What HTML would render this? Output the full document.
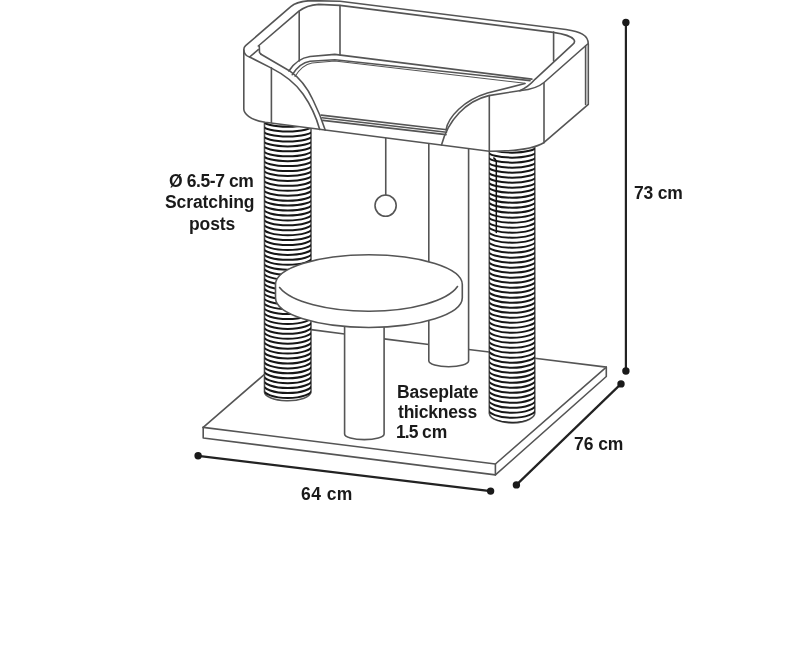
<!DOCTYPE html>
<html><head><meta charset="utf-8"><style>
html,body{margin:0;padding:0;background:#fff;width:800px;height:657px;overflow:hidden}
.wrap{position:relative;width:800px;height:657px}
svg{position:absolute;left:0;top:0}
.t{position:absolute;font-family:"Liberation Sans",sans-serif;font-weight:bold;color:#1a1a1a;font-size:17.5px;line-height:17px;white-space:nowrap;will-change:transform}
</style></head><body><div class="wrap">

<svg width="800" height="657" viewBox="0 0 800 657">
<defs>
  <clipPath id="cpL"><path d="M264.5,122.3 L311,128.5 L311,392.2 A23.25,9.1 0 0 1 264.5,391.2 Z"/></clipPath>
  <clipPath id="cpR"><path d="M489.3,151 C505,153 525,151 534.8,147.6 L534.8,412.2 A22.75,10.1 0 0 1 489.3,413.3 Z"/></clipPath>
</defs>
<g fill="none" stroke="#555" stroke-width="1.6" stroke-linecap="round" stroke-linejoin="round">
  <!-- ===== base plate ===== -->
  <path d="M203.2,427.4 L495.4,464 L606.3,367.1 L534.8,358.2"/>
  <path d="M203.2,427.4 L203.2,438 L495.4,474.9 L606.3,376.5 L606.3,367.1"/>
  <path d="M495.4,464 L495.4,474.9"/>
  <path d="M203.2,427.4 L264.5,374.3"/>
  <path d="M311,329.6 L344.6,334"/>
  <path d="M384.1,338.9 L428.8,344.5"/>
  <path d="M468.6,349.5 L489.3,352"/>

  <!-- ===== back column ===== -->
  <path d="M428.8,143.3 L428.8,262"/>
  <path d="M428.8,319 L428.8,360.7 A19.9,6.1 0 0 0 468.6,360.7 L468.6,148.6" fill="#fff"/>

  <!-- ===== string and ball ===== -->
  <path d="M385.75,137.3 L385.75,195"/>
  <circle cx="385.6" cy="205.6" r="10.6"/>

  <!-- ===== left post ===== -->
  <path d="M264.5,122.3 L264.5,391.2 A23.25,9.1 0 0 0 311,392.2 L311,128.5" fill="#fff"/>
  <g clip-path="url(#cpL)"><path d="M263.00,120.70A24.75,6.00 0 0 0 312.50,120.70M263.00,125.58A24.75,6.01 0 0 0 312.50,125.58M263.00,130.46A24.75,6.06 0 0 0 312.50,130.46M263.00,135.34A24.75,6.11 0 0 0 312.50,135.34M263.00,140.22A24.75,6.17 0 0 0 312.50,140.22M263.00,145.10A24.75,6.22 0 0 0 312.50,145.10M263.00,149.98A24.75,6.27 0 0 0 312.50,149.98M263.00,154.86A24.75,6.33 0 0 0 312.50,154.86M263.00,159.74A24.75,6.38 0 0 0 312.50,159.74M263.00,164.62A24.75,6.43 0 0 0 312.50,164.62M263.00,169.50A24.75,6.49 0 0 0 312.50,169.50M263.00,174.38A24.75,6.54 0 0 0 312.50,174.38M263.00,179.26A24.75,6.59 0 0 0 312.50,179.26M263.00,184.14A24.75,6.65 0 0 0 312.50,184.14M263.00,189.02A24.75,6.70 0 0 0 312.50,189.02M263.00,193.90A24.75,6.75 0 0 0 312.50,193.90M263.00,198.78A24.75,6.80 0 0 0 312.50,198.78M263.00,203.66A24.75,6.86 0 0 0 312.50,203.66M263.00,208.54A24.75,6.91 0 0 0 312.50,208.54M263.00,213.42A24.75,6.96 0 0 0 312.50,213.42M263.00,218.30A24.75,7.02 0 0 0 312.50,218.30M263.00,223.18A24.75,7.07 0 0 0 312.50,223.18M263.00,228.06A24.75,7.12 0 0 0 312.50,228.06M263.00,232.94A24.75,7.18 0 0 0 312.50,232.94M263.00,237.82A24.75,7.23 0 0 0 312.50,237.82M263.00,242.70A24.75,7.28 0 0 0 312.50,242.70M263.00,247.58A24.75,7.34 0 0 0 312.50,247.58M263.00,252.46A24.75,7.39 0 0 0 312.50,252.46M263.00,257.34A24.75,7.44 0 0 0 312.50,257.34M263.00,262.22A24.75,7.50 0 0 0 312.50,262.22M263.00,267.10A24.75,7.55 0 0 0 312.50,267.10M263.00,271.98A24.75,7.60 0 0 0 312.50,271.98M263.00,276.86A24.75,7.66 0 0 0 312.50,276.86M263.00,281.74A24.75,7.71 0 0 0 312.50,281.74M263.00,286.62A24.75,7.76 0 0 0 312.50,286.62M263.00,291.50A24.75,7.82 0 0 0 312.50,291.50M263.00,296.38A24.75,7.87 0 0 0 312.50,296.38M263.00,301.26A24.75,7.92 0 0 0 312.50,301.26M263.00,306.14A24.75,7.98 0 0 0 312.50,306.14M263.00,311.02A24.75,8.03 0 0 0 312.50,311.02M263.00,315.90A24.75,8.08 0 0 0 312.50,315.90M263.00,320.78A24.75,8.14 0 0 0 312.50,320.78M263.00,325.66A24.75,8.19 0 0 0 312.50,325.66M263.00,330.54A24.75,8.24 0 0 0 312.50,330.54M263.00,335.42A24.75,8.30 0 0 0 312.50,335.42M263.00,340.30A24.75,8.35 0 0 0 312.50,340.30M263.00,345.18A24.75,8.40 0 0 0 312.50,345.18M263.00,350.06A24.75,8.46 0 0 0 312.50,350.06M263.00,354.94A24.75,8.51 0 0 0 312.50,354.94M263.00,359.82A24.75,8.56 0 0 0 312.50,359.82M263.00,364.70A24.75,8.61 0 0 0 312.50,364.70M263.00,369.58A24.75,8.67 0 0 0 312.50,369.58M263.00,374.46A24.75,8.72 0 0 0 312.50,374.46M263.00,379.34A24.75,8.77 0 0 0 312.50,379.34M263.00,384.22A24.75,8.83 0 0 0 312.50,384.22M263.00,389.10A24.75,8.88 0 0 0 312.50,389.10M263.00,393.98A24.75,8.93 0 0 0 312.50,393.98M263.00,398.86A24.75,8.99 0 0 0 312.50,398.86" stroke="#161616" stroke-width="2.0"/></g>

  <!-- ===== right post ===== -->
  <path d="M489.3,151 L489.3,413.3 A22.75,10.1 0 0 0 534.8,412.2 L534.8,147.6" fill="#fff"/>
  <g clip-path="url(#cpR)"><path d="M487.80,146.40A24.25,6.23 0 0 0 536.30,146.40M487.80,151.35A24.25,6.29 0 0 0 536.30,151.35M487.80,156.30A24.25,6.34 0 0 0 536.30,156.30M487.80,161.25A24.25,6.40 0 0 0 536.30,161.25M487.80,166.20A24.25,6.45 0 0 0 536.30,166.20M487.80,171.15A24.25,6.50 0 0 0 536.30,171.15M487.80,176.10A24.25,6.56 0 0 0 536.30,176.10M487.80,181.05A24.25,6.61 0 0 0 536.30,181.05M487.80,186.00A24.25,6.67 0 0 0 536.30,186.00M487.80,190.95A24.25,6.72 0 0 0 536.30,190.95M487.80,195.90A24.25,6.77 0 0 0 536.30,195.90M487.80,200.85A24.25,6.83 0 0 0 536.30,200.85M487.80,205.80A24.25,6.88 0 0 0 536.30,205.80M487.80,210.75A24.25,6.94 0 0 0 536.30,210.75M487.80,215.70A24.25,6.99 0 0 0 536.30,215.70M487.80,220.65A24.25,7.04 0 0 0 536.30,220.65M487.80,225.60A24.25,7.10 0 0 0 536.30,225.60M487.80,230.55A24.25,7.15 0 0 0 536.30,230.55M487.80,235.50A24.25,7.21 0 0 0 536.30,235.50M487.80,240.45A24.25,7.26 0 0 0 536.30,240.45M487.80,245.40A24.25,7.31 0 0 0 536.30,245.40M487.80,250.35A24.25,7.37 0 0 0 536.30,250.35M487.80,255.30A24.25,7.42 0 0 0 536.30,255.30M487.80,260.25A24.25,7.48 0 0 0 536.30,260.25M487.80,265.20A24.25,7.53 0 0 0 536.30,265.20M487.80,270.15A24.25,7.58 0 0 0 536.30,270.15M487.80,275.10A24.25,7.64 0 0 0 536.30,275.10M487.80,280.05A24.25,7.69 0 0 0 536.30,280.05M487.80,285.00A24.25,7.75 0 0 0 536.30,285.00M487.80,289.95A24.25,7.80 0 0 0 536.30,289.95M487.80,294.90A24.25,7.85 0 0 0 536.30,294.90M487.80,299.85A24.25,7.91 0 0 0 536.30,299.85M487.80,304.80A24.25,7.96 0 0 0 536.30,304.80M487.80,309.75A24.25,8.02 0 0 0 536.30,309.75M487.80,314.70A24.25,8.07 0 0 0 536.30,314.70M487.80,319.65A24.25,8.12 0 0 0 536.30,319.65M487.80,324.60A24.25,8.18 0 0 0 536.30,324.60M487.80,329.55A24.25,8.23 0 0 0 536.30,329.55M487.80,334.50A24.25,8.29 0 0 0 536.30,334.50M487.80,339.45A24.25,8.34 0 0 0 536.30,339.45M487.80,344.40A24.25,8.39 0 0 0 536.30,344.40M487.80,349.35A24.25,8.45 0 0 0 536.30,349.35M487.80,354.30A24.25,8.50 0 0 0 536.30,354.30M487.80,359.25A24.25,8.56 0 0 0 536.30,359.25M487.80,364.20A24.25,8.61 0 0 0 536.30,364.20M487.80,369.15A24.25,8.66 0 0 0 536.30,369.15M487.80,374.10A24.25,8.72 0 0 0 536.30,374.10M487.80,379.05A24.25,8.77 0 0 0 536.30,379.05M487.80,384.00A24.25,8.83 0 0 0 536.30,384.00M487.80,388.95A24.25,8.88 0 0 0 536.30,388.95M487.80,393.90A24.25,8.93 0 0 0 536.30,393.90M487.80,398.85A24.25,8.99 0 0 0 536.30,398.85M487.80,403.80A24.25,9.00 0 0 0 536.30,403.80M487.80,408.75A24.25,9.00 0 0 0 536.30,408.75M487.80,413.70A24.25,9.00 0 0 0 536.30,413.70M487.80,418.65A24.25,9.00 0 0 0 536.30,418.65" stroke="#161616" stroke-width="2.0"/></g>
  <path d="M493.8,158 Q496.3,159.5 496.3,162 L496.3,232.5" stroke="#111" stroke-width="1.5"/>

  <!-- ===== platform ===== -->
  <path d="M344.6,320 L344.6,434 A19.75,5.6 0 0 0 384.1,434 L384.1,320" fill="#fff"/>
  <path d="M275.5,284.5 A93.4,29.7 0 0 1 462.3,284.5 L462.3,297.8 A93.4,29.7 0 0 1 275.5,297.8 Z" fill="#fff"/>
  <path d="M279.6,287.5 A92,32.6 0 0 0 457.5,286.5"/>

  <!-- ===== bed ===== -->
  <!-- outer rim outline + faces (white fill) -->
  <path fill="#fff" d="M243.8,50 C243.7,48.5 244.2,47 245.6,45.7 L290.75,6.6 C294,3.8 301,1.2 310,0.6 L340,1.2 L566,29.5 C580,31.5 588.3,35 588.3,44 L588.3,104.4 L543.8,142.7 C535,148 520,151.3 489.3,151.3 L265.2,122.3 C258,121.2 252,119 248.6,116.3 C245.3,113.8 243.8,112 243.8,109 Z"/>
  <!-- inner rim top edge -->
  <path d="M258.3,46 L298.6,11.4 C303,8 310,5 318.75,4.4 L340,5.4 L553.25,32.4 C563,33.8 571,36 573.8,39.5 C575.2,41.3 574.3,43.2 572.5,44.7 L535,79.3 C531,84 526,88 519.8,90.7"/>
  <!-- rim end divider left -->
  <path d="M249.6,57 L258.3,49.7"/>
  <path d="M259.3,46 L259.5,52.4 L261,54.2"/>
  <!-- left ear curves -->
  <path d="M243.8,50 C244,53 246,56 249.6,57 L271,67.9 C285,75 296,84 303,94 C310,104 316,116 319.7,129.5"/>
  <path d="M261,54.2 L289.3,70.7 C300,78 307,87 313,100 C318,110 322,120 325.2,130.1"/>
  <!-- verticals -->
  <path d="M271.4,67.9 L271.4,122.5"/>
  <path d="M299.2,11.3 L299.2,61"/>
  <path d="M340,5.6 L340,54.8"/>
  <path d="M553.6,32 L553.6,61"/>
  <path d="M544,83 L544,142.7"/>
  <path d="M489.3,95.6 L489.3,151"/>
  <path d="M585.6,46 L585.6,104.4"/>
  <!-- outer right rim diagonal -->
  <path d="M587.6,44 L544,82.5 C538,87.5 532,89.5 521,90.5"/>
  <!-- right ear curves -->
  <path d="M521,90.5 L488.75,95.6 C466,101 448,120 441.5,145"/>
  <path d="M525,83.5 L487.5,93 C464,100 448,117 446,130"/>
  <!-- tray back rim -->
  <path d="M288.9,71 C294,63 300,58 310,56.5 L334.8,54.4 L531.9,79.1"/>
  <path d="M292.3,74.7 C297,67 302,62.5 310,61.2 L334.8,59.7 L530,80.6"/>
  <path d="M295,76.5 C299,70 304,64.5 312,63 L334.8,61.0 L525,83.3" stroke-width="1.1"/>
  <!-- tray front rim -->
  <path d="M321.2,115.1 L447,129.7"/>
  <path d="M322,117.8 L446.5,132.2"/>
  <path d="M322.8,120.4 L446,134.6"/>
</g>

<!-- ===== dimension lines ===== -->
<g stroke="#222" stroke-width="2.2" fill="#1a1a1a">
  <line x1="625.9" y1="22.5" x2="625.9" y2="371"/>
  <circle cx="625.9" cy="22.5" r="3.7" stroke="none"/>
  <circle cx="625.9" cy="371" r="3.7" stroke="none"/>
  <line x1="516.4" y1="484.9" x2="621" y2="383.9"/>
  <circle cx="516.4" cy="484.9" r="3.7" stroke="none"/>
  <circle cx="621" cy="383.9" r="3.7" stroke="none"/>
  <line x1="198.1" y1="455.8" x2="490.6" y2="491.1"/>
  <circle cx="198.1" cy="455.8" r="3.7" stroke="none"/>
  <circle cx="490.6" cy="491.1" r="3.7" stroke="none"/>
</g>
</svg>
<div class="t" style="left:169.20px;top:172.50px;letter-spacing:-0.4px;word-spacing:0px">Ø 6.5-7 cm</div><div class="t" style="left:164.60px;top:194.40px;letter-spacing:-0.1px;word-spacing:0px">Scratching</div><div class="t" style="left:188.60px;top:216.40px;letter-spacing:-0.1px;word-spacing:0px">posts</div><div class="t" style="left:397.10px;top:384.40px;letter-spacing:-0.15px;word-spacing:0px">Baseplate</div><div class="t" style="left:397.50px;top:404.10px;letter-spacing:-0.2px;word-spacing:0px">thickness</div><div class="t" style="left:396.00px;top:424.05px;letter-spacing:-0.9px;word-spacing:0px">1.5</div><div class="t" style="left:421.80px;top:424.05px;letter-spacing:0.0px;word-spacing:0px">cm</div><div class="t" style="left:633.50px;top:185.00px;letter-spacing:-0.2px;word-spacing:0px">73 cm</div><div class="t" style="left:574.00px;top:436.00px;letter-spacing:-0.05px;word-spacing:0px">76 cm</div><div class="t" style="left:301.00px;top:486.00px;letter-spacing:0.45px;word-spacing:0px">64 cm</div>
</div></body></html>
